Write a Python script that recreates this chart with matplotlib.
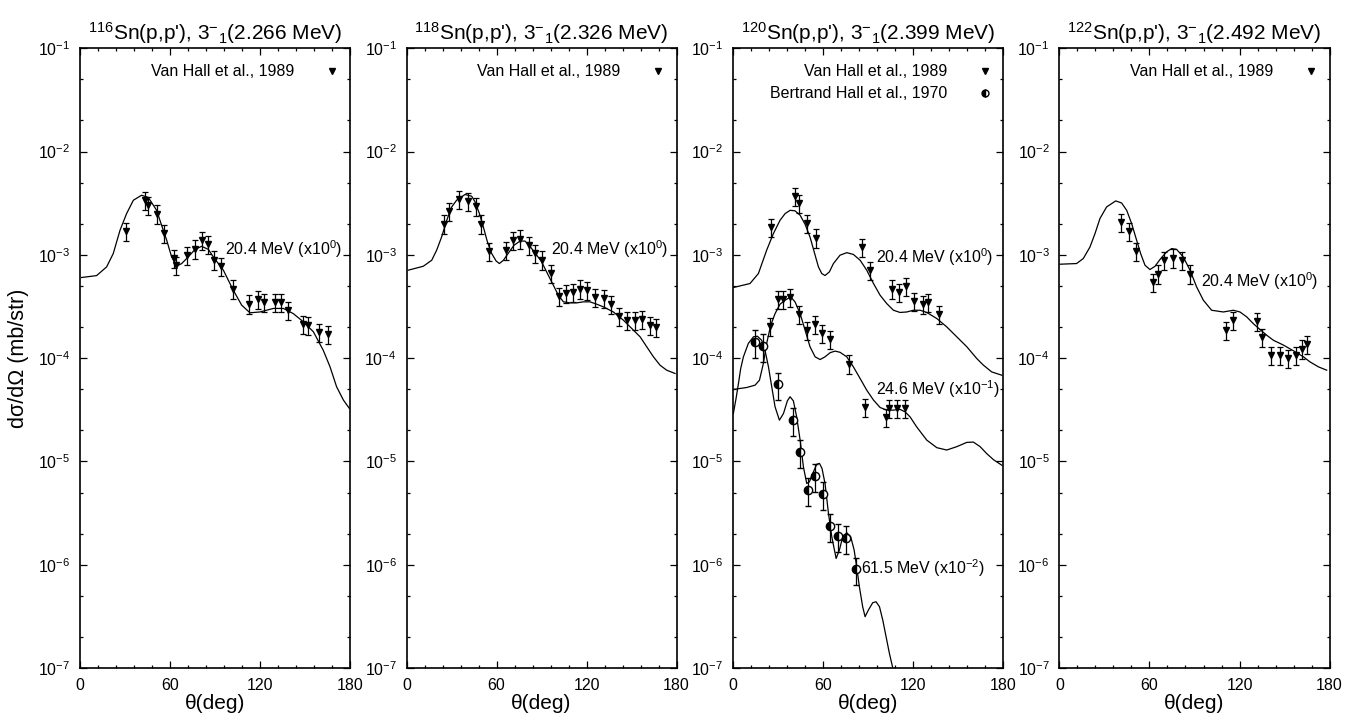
import matplotlib
matplotlib.use("Agg")
import numpy as np
import matplotlib.pyplot as plt
from matplotlib.ticker import FixedLocator, FuncFormatter, NullFormatter
from matplotlib.lines import Line2D

plt.rcParams['font.family'] = ['Liberation Sans', 'DejaVu Sans']
plt.rcParams['mathtext.fontset'] = 'custom'
plt.rcParams['mathtext.rm'] = 'Liberation Sans'
plt.rcParams['mathtext.default'] = 'regular'

# ---- 116Sn, 20.4 MeV ----
th_116_calc = [1.1, 11.1, 17.8, 22.2, 26.7, 31.1, 35.6, 41.1, 45.6, 51.1, 54.4, 57.8, 61.1,
               64.4, 67.8, 72.2, 76.7, 81.1, 85.6, 88.9, 95.6, 102.2, 107.8, 113.3, 120,
               128.9, 135.6, 142.2, 148.9, 155.6, 162.2, 166.7, 171.1, 175.6, 179.6]
xs_116_calc = [6.04e-4, 6.3e-4, 7.65e-4, 1.03e-3, 1.73e-3, 2.51e-3, 3.38e-3, 3.78e-3, 3.59e-3,
               2.7e-3, 1.94e-3, 1.39e-3, 9.55e-4, 7.76e-4, 8.24e-4, 9.55e-4, 1.13e-3, 1.21e-3,
               1.13e-3, 9.55e-4, 7.1e-4, 4.55e-4, 3.26e-4, 2.75e-4, 2.8e-4, 3.03e-4, 3.03e-4,
               2.7e-4, 2.25e-4, 1.8e-4, 1.19e-4, 8.24e-5, 5.27e-5, 3.93e-5, 3.26e-5]
th_116_exp = [30.7, 43.3, 45.6, 51.6, 56, 62.7, 64, 71.1, 76.7, 81.1, 85.1, 89.3, 94, 101.8,
              112.9, 118.9, 122.9, 130, 133.8, 138.9, 148.4, 152.2, 159.3, 165.1]
xs_116_exp = [1.71e-3, 3.38e-3, 3.03e-3, 2.51e-3, 1.63e-3, 9.35e-4, 7.94e-4, 9.93e-4, 1.15e-3,
              1.39e-3, 1.27e-3, 9.0e-4, 7.76e-4, 4.72e-4, 3.38e-4, 3.7e-4, 3.5e-4, 3.5e-4,
              3.5e-4, 2.91e-4, 2.13e-4, 2.08e-4, 1.8e-4, 1.71e-4]

# ---- 118Sn, 20.4 MeV ----
th_118_calc = [1.2, 11.2, 16.8, 20.1, 23.4, 26.8, 30.1, 33.4, 39, 43.4, 45.7, 48.6, 51.2, 53.9,
               56.8, 59.7, 61.9, 64.6, 67.9, 71.7, 75.7, 79, 82.3, 86.8, 90.1, 93.4, 97.9,
               101.2, 104.6, 109, 113.4, 117.9, 122.3, 126.8, 131.2, 137.9, 144.6, 150.1,
               155.7, 160.1, 164.6, 169, 173.4, 179]
xs_118_calc = [7.11e-4, 7.76e-4, 8.87e-4, 1.11e-3, 1.49e-3, 2.16e-3, 2.91e-3, 3.38e-3, 3.84e-3,
               3.7e-3, 3.26e-3, 2.51e-3, 1.87e-3, 1.34e-3, 1.03e-3, 8.74e-4, 8.24e-4, 8.87e-4,
               1.04e-3, 1.24e-3, 1.36e-3, 1.36e-3, 1.21e-3, 9.93e-4, 8.55e-4, 6.84e-4, 5.08e-4,
               4.07e-4, 3.51e-4, 3.43e-4, 3.43e-4, 3.51e-4, 3.51e-4, 3.33e-4, 3.14e-4, 2.8e-4,
               2.33e-4, 1.94e-4, 1.61e-4, 1.29e-4, 1.03e-4, 8.55e-5, 7.65e-5, 7.11e-5]
th_118_exp = [25.2, 28.6, 35.2, 41.2, 46.3, 49.7, 55, 66.1, 70.8, 75.7, 81.9, 85.7, 90.6, 96.3,
              101.9, 106.1, 110.8, 115.7, 120.1, 125.9, 131.9, 136.1, 141.9, 146.8, 152.3,
              156.8, 162.3, 166.1]
xs_118_exp = [2.01e-3, 2.67e-3, 3.44e-3, 3.33e-3, 2.96e-3, 2.01e-3, 1.09e-3, 1.11e-3, 1.39e-3,
              1.44e-3, 1.24e-3, 1.04e-3, 9.0e-4, 6.7e-4, 3.98e-4, 4.23e-4, 4.38e-4, 4.72e-4,
              4.55e-4, 3.92e-4, 3.79e-4, 3.33e-4, 2.55e-4, 2.33e-4, 2.33e-4, 2.37e-4, 2.08e-4,
              2.0e-4]

# ---- 120Sn, 20.4 MeV ----
th_120a_calc = [0.2, 11.3, 16.9, 22.4, 26.9, 31.3, 34.7, 38, 41.3, 44.7, 48, 51.3, 54.7, 56.9,
                59.1, 61.3, 64.2, 66.9, 71.3, 75.8, 80.2, 84.7, 89.1, 93.6, 98, 102.4, 106.9,
                111.3, 115.8, 120.2, 124.7, 129.1, 135.8, 142.4, 149.1, 155.8, 162.4, 166.9,
                172.4, 179.1]
xs_120a_calc = [4.83e-4, 5.28e-4, 6.6e-4, 1.11e-3, 1.61e-3, 2.16e-3, 2.51e-3, 2.7e-3, 2.67e-3,
                2.42e-3, 1.98e-3, 1.49e-3, 9.93e-4, 7.65e-4, 6.6e-4, 6.31e-4, 6.84e-4, 8.24e-4,
                9.93e-4, 1.05e-3, 1.01e-3, 8.87e-4, 7.11e-4, 5.28e-4, 4.07e-4, 3.38e-4, 2.91e-4,
                2.77e-4, 2.8e-4, 2.91e-4, 2.91e-4, 2.77e-4, 2.42e-4, 2.01e-4, 1.61e-4, 1.29e-4,
                9.93e-5, 8.55e-5, 7.36e-5, 6.84e-5]
th_120a_exp = [25.1, 41.3, 44.2, 49.6, 55.3, 85.8, 91.3, 105.8, 110.9, 115.3, 120.9, 126.4,
               129.8, 137.6]
xs_120a_exp = [1.87e-3, 3.7e-3, 3.18e-3, 2.04e-3, 1.47e-3, 1.18e-3, 7.1e-4, 4.72e-4, 4.38e-4,
               4.98e-4, 3.56e-4, 3.33e-4, 3.5e-4, 2.67e-4]

# ---- 120Sn, 24.6 MeV (x10^-1) ----
th_120b_calc = [0.2, 9.1, 14.7, 17.6, 20.2, 22.4, 25.1, 28, 31.3, 34.7, 38.4, 41.3, 44.7, 48,
                51.3, 54.7, 58, 61.3, 64.7, 68, 71.3, 75.8, 80.2, 84.7, 89.1, 93.6, 98, 102.4,
                106.9, 111.3, 114.7, 118, 122.4, 129.1, 135.8, 142.4, 149.1, 155.8, 160.2,
                164.7, 169.1, 173.6, 179.1]
xs_120b_calc = [4.98e-5, 5.2e-5, 5.48e-5, 6.12e-5, 8.87e-5, 1.39e-4, 2.08e-4, 2.7e-4, 3.33e-4,
                3.64e-4, 3.92e-4, 3.51e-4, 2.7e-4, 1.87e-4, 1.29e-4, 1.03e-4, 9.7e-5, 1.03e-4,
                1.13e-4, 1.17e-4, 1.14e-4, 1.03e-4, 8.24e-5, 6.35e-5, 4.9e-5, 3.93e-5, 3.33e-5,
                3.14e-5, 3.14e-5, 3.19e-5, 3.02e-5, 2.7e-5, 2.16e-5, 1.61e-5, 1.36e-5, 1.29e-5,
                1.39e-5, 1.53e-5, 1.54e-5, 1.39e-5, 1.19e-5, 1.04e-5, 9.2e-6]
th_120b_exp = [24.7, 30.2, 33.1, 38, 44.2, 49.1, 54.7, 59.5, 64.7, 77.3, 88, 102, 104.2, 109.6,
               114.9]
xs_120b_exp = [2.04e-4, 3.7e-4, 3.7e-4, 3.92e-4, 2.67e-4, 1.87e-4, 2.13e-4, 1.76e-4, 1.52e-4,
               8.87e-5, 3.33e-5, 2.7e-5, 3.26e-5, 3.26e-5, 3.26e-5]

# ---- 120Sn, 61.5 MeV (x10^-2) ----
th_120c_calc = [0.2, 2, 3.6, 5.1, 6.9, 10.2, 13.6, 16.2, 19.1, 21.3, 23.6, 25.8, 28, 30.9, 33.6,
                36.2, 38, 40.2, 42.4, 44.7, 46.9, 49.1, 50.9, 53.1, 55.8, 57.6, 59.3, 61.3,
                63.6, 65.8, 68.7, 70.9, 73.1, 75.8, 78.4, 80.7, 82.4, 84.2, 86.4, 88, 90.2,
                93.1, 95.3, 97.6, 99.8, 102, 104.2, 106.4, 108]
xs_120c_calc = [2.91e-5, 4.07e-5, 5.69e-5, 7.94e-5, 1.03e-4, 1.39e-4, 1.61e-4, 1.63e-4, 1.49e-4,
                1.19e-4, 8.24e-5, 5.27e-5, 3.38e-5, 2.51e-5, 2.91e-5, 3.86e-5, 4.23e-5, 3.86e-5,
                2.7e-5, 1.61e-5, 8.87e-6, 6.12e-6, 6.35e-6, 7.65e-6, 9.4e-6, 9.57e-6, 8.55e-6,
                6.12e-6, 3.14e-6, 1.87e-6, 1.15e-6, 1.39e-6, 1.87e-6, 2.04e-6, 1.87e-6, 1.39e-6,
                9.57e-7, 6.12e-7, 3.92e-7, 3.14e-7, 3.64e-7, 4.29e-7, 4.38e-7, 3.92e-7, 2.91e-7,
                2.01e-7, 1.39e-7, 1.01e-7, 7.65e-8]
th_120c_exp = [14.7, 19.8, 29.8, 39.8, 44.7, 49.8, 54.9, 60, 64.9, 69.8, 75.1, 81.8]
xs_120c_exp = [1.44e-4, 1.31e-4, 5.56e-5, 2.51e-5, 1.24e-5, 5.28e-6, 7.26e-6, 4.83e-6, 2.38e-6,
               1.9e-6, 1.81e-6, 9.0e-7]

# ---- 122Sn, 20.4 MeV ----
th_122_calc = [0.3, 11.4, 15.9, 20.3, 23.7, 27, 31.4, 37.5, 41.4, 44.8, 48.1, 51.4, 54.1, 57,
               60.3, 63.7, 67, 71.4, 74.8, 78.1, 82.5, 87, 91.4, 95.9, 101.4, 109.2, 115.9,
               120.3, 124.8, 129.2, 133.7, 138.1, 142.6, 149.2, 155.9, 162.6, 167, 172.6, 178.1]
xs_122_calc = [8.12e-4, 8.24e-4, 9.23e-4, 1.19e-3, 1.61e-3, 2.25e-3, 2.91e-3, 3.33e-3, 3.18e-3,
               2.7e-3, 2.01e-3, 1.39e-3, 1.03e-3, 7.94e-4, 7.21e-4, 7.76e-4, 9.02e-4, 1.07e-3,
               1.15e-3, 1.13e-3, 9.55e-4, 7.11e-4, 4.9e-4, 3.64e-4, 2.91e-4, 2.8e-4, 2.91e-4,
               2.8e-4, 2.51e-4, 2.16e-4, 1.89e-4, 1.67e-4, 1.49e-4, 1.34e-4, 1.18e-4, 1.03e-4,
               9.2e-5, 8.24e-5, 7.65e-5]
th_122_exp = [40.8, 46.3, 51, 62.3, 65.9, 69.9, 75.9, 81.5, 87, 111, 115.9, 131.5, 135.2, 140.8,
              147, 152.6, 157.7, 161.5, 165.2]
xs_122_exp = [2.08e-3, 1.71e-3, 1.09e-3, 5.48e-4, 6.6e-4, 8.87e-4, 9.42e-4, 8.87e-4, 6.6e-4,
              1.87e-4, 2.33e-4, 2.3e-4, 1.61e-4, 1.07e-4, 1.07e-4, 9.93e-5, 1.07e-4, 1.24e-4,
              1.36e-4]

# relative experimental errors per data set
err_vanhall = 0.2
err_bertrand = 0.3

titles = [r"$^{116}$Sn(p,p'), 3$^{-}$$_{1}$(2.266 MeV)",
          r"$^{118}$Sn(p,p'), 3$^{-}$$_{1}$(2.326 MeV)",
          r"$^{120}$Sn(p,p'), 3$^{-}$$_{1}$(2.399 MeV)",
          r"$^{122}$Sn(p,p'), 3$^{-}$$_{1}$(2.492 MeV)"]

decades = [-7, -6, -5, -4, -3, -2, -1]
y_major = [10.0 ** e for e in decades]
y_minor = [m * 10.0 ** e for e in decades[:-1] for m in (2, 5)]


def draw_exp(ax, th, xs, rel, fmt):
    yerr = [v * rel for v in xs]
    if fmt == 'circle':
        ax.errorbar(th, xs, yerr=yerr, fmt='o', ms=6, mfc='k', mec='k', fillstyle='left',
                    markerfacecoloralt='white', mew=1.0, ecolor='k', elinewidth=0.9,
                    capsize=2, capthick=0.9, zorder=3)
    else:
        ax.errorbar(th, xs, yerr=yerr, fmt='v', ms=5, color='k', ecolor='k', elinewidth=0.9,
                    capsize=2, capthick=0.9, zorder=3)


def ylab(v, pos):
    e = int(round(np.log10(v)))
    return r"10$^{%d}$" % e


fig = plt.figure(figsize=(13.55, 7.24), dpi=100)
lefts = [0.059, 0.300, 0.541, 0.7819]
axes = [fig.add_axes([l, 0.0773, 0.1993, 0.856]) for l in lefts]

for ax, title in zip(axes, titles):
    ax.set_yscale('log')
    ax.set_xlim(0, 180)
    ax.set_ylim(1e-7, 1e-1)
    ax.xaxis.set_major_locator(FixedLocator([0, 60, 120, 180]))
    ax.xaxis.set_minor_locator(FixedLocator(list(range(0, 181, 12))))
    ax.yaxis.set_major_locator(FixedLocator(y_major))
    ax.yaxis.set_minor_locator(FixedLocator(y_minor))
    ax.yaxis.set_major_formatter(FuncFormatter(ylab))
    ax.yaxis.set_minor_formatter(NullFormatter())
    ax.tick_params(which='both', direction='in', top=True, right=True, labelsize=11.5,
                   colors='k', width=0.9)
    ax.tick_params(which='major', length=5, pad=7)
    ax.tick_params(which='minor', length=2.5)
    for s in ax.spines.values():
        s.set_linewidth(1.2)
    ax.set_title(title, fontsize=15, pad=6)
    ax.set_xlabel(r"θ(deg)", fontsize=15, labelpad=1)

axes[0].set_ylabel("dσ/dΩ (mb/str)", fontsize=15.5)
axes[0].yaxis.set_label_coords(-0.19, 0.5)

curves = [(axes[0], th_116_calc, xs_116_calc), (axes[1], th_118_calc, xs_118_calc),
          (axes[2], th_120a_calc, xs_120a_calc), (axes[2], th_120b_calc, xs_120b_calc),
          (axes[2], th_120c_calc, xs_120c_calc), (axes[3], th_122_calc, xs_122_calc)]
for ax, th, xs in curves:
    ax.plot(th, xs, color='k', lw=0.9, solid_joinstyle='round')

draw_exp(axes[0], th_116_exp, xs_116_exp, err_vanhall, 'tri')
draw_exp(axes[1], th_118_exp, xs_118_exp, err_vanhall, 'tri')
draw_exp(axes[2], th_120a_exp, xs_120a_exp, err_vanhall, 'tri')
draw_exp(axes[2], th_120b_exp, xs_120b_exp, err_vanhall, 'tri')
draw_exp(axes[2], th_120c_exp, xs_120c_exp, err_bertrand, 'circle')
draw_exp(axes[3], th_122_exp, xs_122_exp, err_vanhall, 'tri')

labels = [(axes[0], 96.7, 1.13e-3, "20.4 MeV (x10$^{0}$)"),
          (axes[1], 96.3, 1.13e-3, "20.4 MeV (x10$^{0}$)"),
          (axes[2], 95.3, 9.55e-4, "20.4 MeV (x10$^{0}$)"),
          (axes[2], 95.3, 5.0e-5, "24.6 MeV (x10$^{-1}$)"),
          (axes[2], 85.3, 9.3e-7, "61.5 MeV (x10$^{-2}$)"),
          (axes[3], 94.3, 5.6e-4, "20.4 MeV (x10$^{0}$)")]
for ax, x, y, t in labels:
    ax.text(x, y, t, fontsize=11.5, ha='left', va='center')

h_vh = Line2D([], [], marker='v', ls='none', ms=5, color='k')
h_bt = Line2D([], [], marker='o', ls='none', ms=5, mfc='k', mec='k', fillstyle='left',
              markerfacecoloralt='white')
for i, ax in enumerate(axes):
    if i == 2:
        hs, ls = [h_vh, h_bt], ["Van Hall et al., 1989", "Bertrand Hall et al., 1970"]
    else:
        hs, ls = [h_vh], ["Van Hall et al., 1989"]
    ax.legend(hs, ls, loc='upper right', bbox_to_anchor=(1.0, 0.9845), frameon=False,
              markerfirst=False, fontsize=11.5, handlelength=1.5, handletextpad=1.6,
              labelspacing=0.45, borderaxespad=0.0)

fig.savefig("out.png", dpi=100)
